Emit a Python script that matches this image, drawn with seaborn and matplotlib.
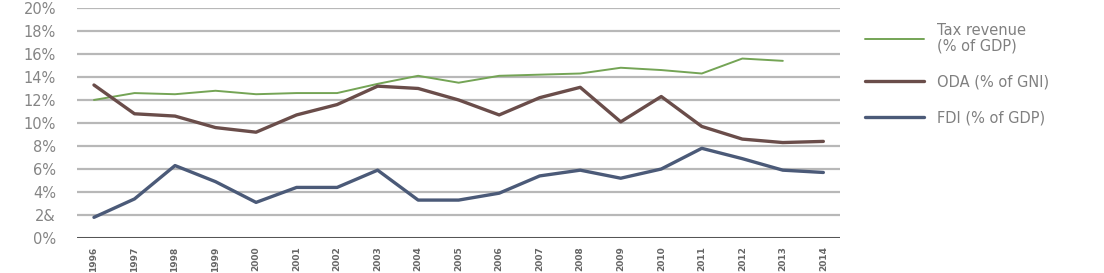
"""Tax revenue, ODA and FDI shares, 1996-2014 — line chart recreation."""
import matplotlib; matplotlib.use("Agg")
import numpy as np
import pandas as pd
import matplotlib.pyplot as plt
import seaborn as sns

years = list(range(1996, 2015))
tax = [12.0, 12.6, 12.5, 12.8, 12.5, 12.6, 12.6, 13.4, 14.1, 13.5, 14.1,
       14.2, 14.3, 14.8, 14.6, 14.3, 15.6, 15.4, np.nan]
oda = [13.3, 10.8, 10.6, 9.6, 9.2, 10.7, 11.6, 13.2, 13.0, 12.0, 10.7,
       12.2, 13.1, 10.1, 12.3, 9.7, 8.6, 8.3, 8.4]
fdi = [1.8, 3.4, 6.3, 4.9, 3.1, 4.4, 4.4, 5.9, 3.3, 3.3, 3.9,
       5.4, 5.9, 5.2, 6.0, 7.8, 6.9, 5.9, 5.7]
series = ["Tax revenue\n(% of GDP)", "ODA (% of GNI)", "FDI (% of GDP)"]
colors = ["#74a455", "#6a4d4a", "#4b5a78"]
widths = [1.4, 2.4, 2.4]
yticks = list(range(0, 21, 2))
ytick_labels = ["0%", "2&", "4%", "6%", "8%", "10%", "12%", "14%", "16%", "18%", "20%"]

df = pd.DataFrame({"year": years * 3,
                   "value": tax + oda + fdi,
                   "series": np.repeat(series, len(years))})

sns.set_style("white")
plt.rcParams["legend.handleheight"] = 0.7
fig = plt.figure(figsize=(11.04, 2.73), dpi=100)
ax = fig.add_axes([0.0697, 0.128, 0.6915, 0.843])

for ytk in yticks:
    ax.axhline(ytk, color="#555555" if ytk == 0 else "#b8b8b8",
               lw=2.2 if ytk == 0 else 1.6, zorder=0)

for name, col, lw in zip(series, colors, widths):
    sns.lineplot(data=df[df["series"] == name], x="year", y="value",
                 color=col, lw=lw, label=name, ax=ax)

ax.set_xlim(1995.58, 2014.42)
ax.set_ylim(0, 20)
ax.set_yticks(yticks)
ax.set_yticklabels(ytick_labels, color="#858585", fontsize=10.5)
ax.set_xticks(years)
ax.set_xticklabels([str(y) for y in years], rotation=90, fontsize=6.5,
                   fontweight="bold", color="#666666")
ax.tick_params(axis="y", length=0, pad=15)
ax.tick_params(axis="x", length=0, pad=6)
ax.set_xlabel(""); ax.set_ylabel("")
sns.despine(ax=ax, left=True, bottom=True)

handles, labels = ax.get_legend_handles_labels()
ax.legend_.remove()
leg = fig.legend(handles, labels, loc="upper left", bbox_to_anchor=(0.772, 0.965),
                 frameon=False, fontsize=10.5, handlelength=4.0, labelspacing=1.45,
                 handletextpad=0.9, labelcolor="#808080")
for t in leg.get_texts():
    t.set_linespacing(1.05)

fig.savefig("out.png", dpi=100)
